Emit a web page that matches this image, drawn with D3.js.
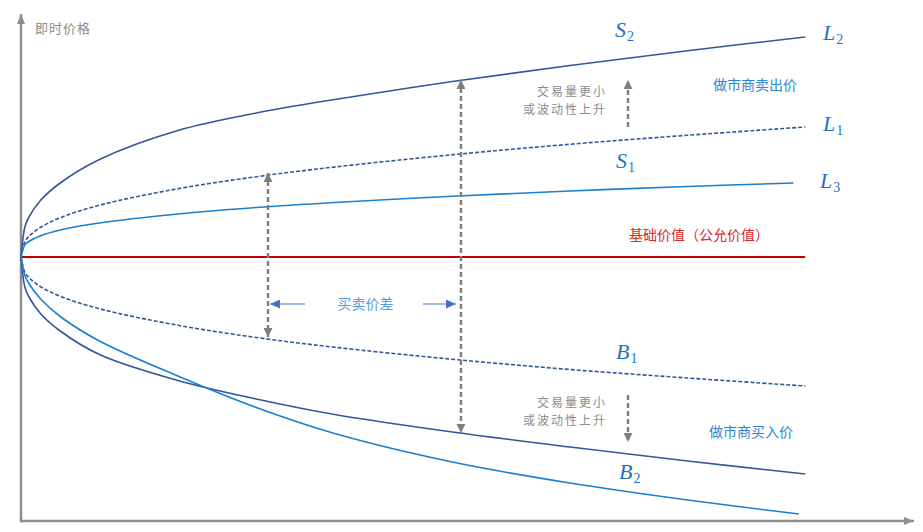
<!DOCTYPE html>
<html>
<head>
<meta charset="utf-8">
<script src="https://cdn.jsdelivr.net/npm/d3@7"></script>
<style>
  html, body { margin: 0; padding: 0; background: #fff; }
  svg { display: block; }
  .cjk { font-family: "Noto Sans CJK SC", sans-serif; }
  .math { font-family: "Liberation Serif", "DejaVu Serif", serif; font-style: italic; fill: #1a72c4; }
</style>
</head>
<body>
<div id="chart"></div>
<script>
// ---------- Data (time units, price offset from fair value) ----------
const timeGrid   = [0, 0.5, 1, 2.5, 5, 10, 20, 30, 40, 55, 70, 85, 100];
const timeGridL3 = [0, 0.5, 1, 2.5, 5, 10, 20, 30, 40, 55, 70, 85, 98.5];
const timeGridB3 = [0, 0.5, 1, 2.5, 5, 10, 20, 30, 40, 55, 70, 85, 99.2];

const askL2 = [0, 12.1, 15.9, 22.7, 29.6, 39, 50.6, 57.6, 63, 70.2, 76.6, 82.5, 88];
const askL1 = [0, 6.2, 8.2, 11.9, 15.7, 20.7, 27.3, 32.1, 36.0, 40.9, 45.1, 48.7, 52];
const askL3 = [0, 4.9, 6.2, 8.5, 10.8, 13.6, 17.2, 19.8, 21.8, 24.3, 26.4, 28.2, 29.6];
const bidB1 = [0, -6.2, -8.2, -11.9, -15.7, -20.7, -27.3, -32.2, -36.1, -40.9, -45, -48.4, -51.6];
const bidB2 = [0, -12.1, -15.9, -22.7, -29.6, -39, -49.4, -56.8, -63, -70, -76, -81.6, -86.8];
const bidB3 = [0, -7.5, -10.6, -16.8, -23.8, -33.6, -47.6, -60.2, -70.6, -82, -90.4, -97.2, -102.8];

const fairValue = 0;
const fairValueEnd = 100;

// bid-ask spread markers
const spreadTimes   = [31.5, 56.1];
const spreadTops    = [33.6, 70.8];
const spreadBottoms = [-32, -70.4];

// ---------- Layout ----------
const width = 923, height = 532;

const x = d3.scaleLinear().domain([0, 114]).range([21, 915]);
const y = d3.scaleLinear().domain([-105.6, 96.8]).range([521, 15]);

const svg = d3.select("#chart").append("svg")
  .attr("width", width)
  .attr("height", height);

// ---------- Markers ----------
const defs = svg.append("defs");
function marker(id, color, w, h) {
  defs.append("marker")
    .attr("id", id)
    .attr("markerUnits", "userSpaceOnUse")
    .attr("viewBox", `0 0 ${w} ${h}`)
    .attr("refX", w)
    .attr("refY", h / 2)
    .attr("markerWidth", w)
    .attr("markerHeight", h)
    .attr("orient", "auto-start-reverse")
    .append("path")
    .attr("d", `M0,0L${w},${h / 2}L0,${h}Z`)
    .attr("fill", color);
}
marker("axisHead", "#8f8f8f", 10, 8);
marker("grayHead", "#7f7f7f", 9, 9);
marker("blueHead", "#4472c4", 10, 9);

// ---------- Axes ----------
svg.append("path")
  .attr("d", `M${x(0)},${y(-105.6)}V${y(96.8) - 1}`)
  .attr("stroke", "#8f8f8f")
  .attr("stroke-width", 2.5)
  .attr("fill", "none")
  .attr("marker-end", "url(#axisHead)");

svg.append("path")
  .attr("d", `M${x(0) - 1.2},${y(-105.6)}H${x(114) - 1}`)
  .attr("stroke", "#8f8f8f")
  .attr("stroke-width", 2.5)
  .attr("fill", "none")
  .attr("marker-end", "url(#axisHead)");

svg.append("text")
  .attr("class", "cjk")
  .attr("x", 35).attr("y", 33)
  .attr("font-size", 13)
  .attr("letter-spacing", 1)
  .attr("fill", "#8a8a8a")
  .text("即时价格");

// ---------- Fair value ----------
svg.append("line")
  .attr("x1", x(0)).attr("x2", x(fairValueEnd))
  .attr("y1", y(fairValue)).attr("y2", y(fairValue))
  .attr("stroke", "#c00000")
  .attr("stroke-width", 2.2);

// ---------- Curves ----------
const line = d3.line()
  .x(d => x(d[0]))
  .y(d => y(d[1]))
  .curve(d3.curveCatmullRom.alpha(0.5));

const darkBlue = "#34569a";
const lightBlue = "#1a7fd0";

const curves = [
  { xs: timeGrid,   ys: askL2, color: darkBlue,  dash: null },
  { xs: timeGrid,   ys: askL1, color: darkBlue,  dash: "4,2" },
  { xs: timeGridL3, ys: askL3, color: lightBlue, dash: null },
  { xs: timeGrid,   ys: bidB1, color: darkBlue,  dash: "4,2" },
  { xs: timeGrid,   ys: bidB2, color: darkBlue,  dash: null },
  { xs: timeGridB3, ys: bidB3, color: lightBlue, dash: null }
];

svg.append("g")
  .selectAll("path")
  .data(curves)
  .join("path")
  .attr("d", c => line(c.xs.map((t, i) => [t, c.ys[i]])))
  .attr("fill", "none")
  .attr("stroke", c => c.color)
  .attr("stroke-width", 1.6)
  .attr("stroke-dasharray", c => c.dash);

// ---------- Spread arrows ----------
spreadTimes.forEach((t, i) => {
  svg.append("line")
    .attr("x1", x(t)).attr("x2", x(t))
    .attr("y1", y(spreadTops[i])).attr("y2", y(spreadBottoms[i]))
    .attr("stroke", "#7f7f7f")
    .attr("stroke-width", 2.5)
    .attr("stroke-dasharray", "5,3")
    .attr("marker-start", "url(#grayHead)")
    .attr("marker-end", "url(#grayHead)");
});

// label between the two spread arrows
const spreadMid = (x(spreadTimes[0]) + x(spreadTimes[1])) / 2;
svg.append("text")
  .attr("class", "cjk")
  .attr("x", spreadMid + 1).attr("y", 309)
  .attr("text-anchor", "middle")
  .attr("font-size", 14)
  .attr("fill", "#5b9bd5")
  .text("买卖价差");

svg.append("line")
  .attr("x1", 305).attr("x2", x(spreadTimes[0]) + 2)
  .attr("y1", 304).attr("y2", 304)
  .attr("stroke", "#4472c4").attr("stroke-width", 1.2)
  .attr("marker-end", "url(#blueHead)");
svg.append("line")
  .attr("x1", 423).attr("x2", x(spreadTimes[1]) - 5)
  .attr("y1", 304).attr("y2", 304)
  .attr("stroke", "#4472c4").attr("stroke-width", 1.2)
  .attr("marker-end", "url(#blueHead)");

// ---------- Shift arrows ----------
[[127, 80], [395, 442]].forEach(([y1, y2]) => {
  svg.append("line")
    .attr("x1", 628).attr("x2", 628)
    .attr("y1", y1).attr("y2", y2)
    .attr("stroke", "#7f7f7f")
    .attr("stroke-width", 2.5)
    .attr("stroke-dasharray", "5,3")
    .attr("marker-end", "url(#grayHead)");
});

[[96, 114], [407, 425]].forEach(([b1, b2]) => {
  svg.append("text")
    .attr("class", "cjk")
    .attr("x", 607).attr("y", b1)
    .attr("text-anchor", "end")
    .attr("font-size", 12)
    .attr("letter-spacing", 2)
    .attr("fill", "#8c8c8c")
    .text("交易量更小");
  svg.append("text")
    .attr("class", "cjk")
    .attr("x", 607).attr("y", b2)
    .attr("text-anchor", "end")
    .attr("font-size", 12)
    .attr("letter-spacing", 2)
    .attr("fill", "#8c8c8c")
    .text("或波动性上升");
});

// ---------- Text labels ----------
svg.append("text")
  .attr("class", "cjk")
  .attr("x", 713).attr("y", 90)
  .attr("font-size", 14)
  .attr("fill", "#2e86d0")
  .text("做市商卖出价");

svg.append("text")
  .attr("class", "cjk")
  .attr("x", 709).attr("y", 437)
  .attr("font-size", 14)
  .attr("fill", "#2e86d0")
  .text("做市商买入价");

svg.append("text")
  .attr("class", "cjk")
  .attr("x", 629).attr("y", 240)
  .attr("font-size", 14)
  .attr("fill", "#d42a2a")
  .text("基础价值（公允价值）");

// math labels
const mathLabels = [
  ["S", "2", 615, 37],
  ["L", "2", 823, 40],
  ["L", "1", 823, 131],
  ["S", "1", 616, 168],
  ["L", "3", 820, 188],
  ["B", "1", 616, 359],
  ["B", "2", 619, 479]
];

mathLabels.forEach(([main, sub, lx, ly]) => {
  const t = svg.append("text")
    .attr("class", "math")
    .attr("x", lx).attr("y", ly)
    .attr("font-size", 22);
  t.append("tspan").text(main);
  t.append("tspan")
    .attr("font-size", 14)
    .attr("font-style", "normal")
    .attr("dx", 1)
    .attr("dy", 4)
    .text(sub);
});
</script>
</body>
</html>
